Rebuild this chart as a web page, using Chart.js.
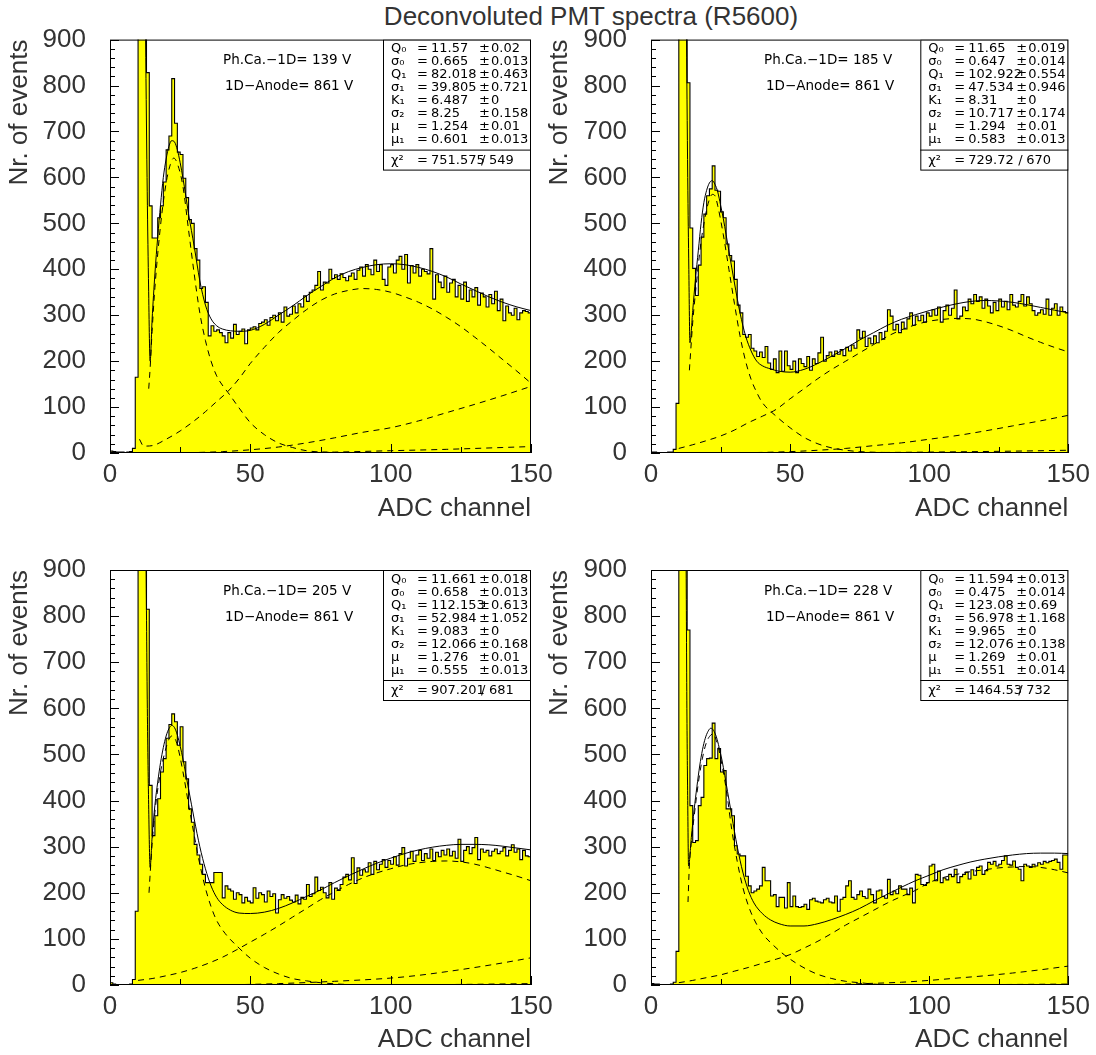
<!DOCTYPE html>
<html>
<head>
<meta charset="utf-8">
<script src="https://cdn.jsdelivr.net/npm/chart.js"></script>
<style>
  body { margin: 0; background: #fff; width: 1096px; height: 1055px; position: relative; overflow: hidden; }
  canvas { position: absolute; }
  #title { position: absolute; top: 3px; left: 591px; transform: translateX(-50%);
           font: 26px "Liberation Sans", Arial, sans-serif; line-height: 26px; color: #333; white-space: nowrap; }
</style>
</head>
<body>
<div id="title">Deconvoluted PMT spectra (R5600)</div>
<canvas id="tl" width="560" height="530" style="left:0;top:0"></canvas>
<canvas id="tr" width="556" height="530" style="left:540px;top:0"></canvas>
<canvas id="bl" width="560" height="525" style="left:0;top:530px"></canvas>
<canvas id="br" width="556" height="525" style="left:540px;top:530px"></canvas>
<script>
// histogram contents, one value per ADC channel 0..149
const histTL = [
  4,3,2,2,2,1,2,3,10,165,
  1800,3000,1400,828,538,468,468,512,538,590,
  660,690,815,718,655,650,598,556,508,500,
  445,420,358,362,328,255,277,265,268,262,
  255,240,262,250,280,258,265,270,238,268,
  272,275,268,282,285,290,278,295,300,288,
  305,285,318,298,302,320,305,325,318,342,
  330,350,355,365,395,355,372,370,400,380,
  388,378,390,382,375,385,392,378,398,405,
  385,410,400,388,420,395,410,378,365,405,
  410,392,420,428,400,432,370,408,392,410,
  385,400,395,390,445,335,388,372,360,385,
  350,370,378,340,365,335,372,330,355,340,
  360,322,348,340,318,345,325,352,310,335,
  288,320,305,300,315,290,305,310,308,305
];
const histTR = [
  2,2,1,1,1,1,2,2,8,108,
  2000,2400,1600,806,490,402,343,409,470,520,
  560,575,625,572,570,525,512,455,430,418,
  378,322,305,258,252,258,228,222,210,220,
  208,232,196,182,205,175,222,178,222,190,
  182,200,175,205,195,188,210,180,205,195,
  218,252,200,212,220,210,222,215,225,212,
  230,222,235,228,268,250,265,232,250,238,
  255,240,262,248,265,312,298,268,280,262,
  285,270,292,305,278,298,288,300,285,305,
  298,312,300,318,285,310,322,300,315,355,
  292,298,318,310,335,325,345,330,340,315,
  335,320,305,328,310,335,318,330,312,345,
  322,318,330,345,320,340,325,310,300,305,
  312,302,335,300,315,325,300,318,308,305
];
const histBL = [
  5,2,1,1,1,1,1,2,12,160,
  1800,2600,1300,815,433,324,367,404,462,491,
  535,565,588,571,520,560,484,447,382,353,
  305,282,262,240,222,222,222,244,244,244,
  189,215,208,204,186,200,196,178,190,182,
  178,211,188,200,196,180,204,192,198,156,
  185,196,188,192,184,180,195,176,190,186,
  218,192,198,234,205,212,200,189,222,186,
  210,205,218,234,240,228,276,220,254,238,
  250,245,265,240,268,250,262,272,255,270,
  262,278,260,285,298,258,275,290,268,282,
  292,270,285,275,295,270,288,278,292,282,
  295,280,290,275,316,268,292,300,285,298,
  320,272,295,288,292,280,290,295,285,290,
  298,280,292,304,288,295,272,292,280,278
];
const histBR = [
  3,2,2,1,1,1,1,2,6,73,
  2200,2800,1500,770,389,309,313,389,407,476,
  491,492,568,491,513,462,465,382,382,367,
  302,284,280,280,236,215,200,204,208,215,
  255,226,226,193,196,170,190,190,167,222,
  170,193,170,168,170,175,164,185,188,182,
  180,178,185,188,180,178,193,160,186,190,
  215,226,190,186,196,204,192,188,208,196,
  178,204,206,192,188,229,196,204,198,215,
  208,208,196,210,178,240,238,218,216,222,
  258,262,226,247,222,232,228,240,235,251,
  222,235,240,245,230,250,238,255,258,240,
  248,266,262,268,258,262,270,280,262,260,
  269,255,251,226,262,258,255,262,258,265,
  262,268,265,268,270,273,266,251,282,282
];

// fitted curves as [channel, events]
const fitTL = [[12.6,950],[13.2,600],[13.7,380],[14.3,200],[15,290],[16,390],[17,470],[18,540],[19,600],[20,640],[21,668],[22,680],[23,677],[24,660],[25,632],[26,598],[27,560],[28,520],[30,450],[32,375],[34,322],[36,292],[38,277],[40,270],[43,266],[46,265],[50,267],[55,280],[60,300],[65,320],[70,342],[75,362],[80,381],[85,395],[90,404],[95,410],[100,412],[105,410],[110,404],[115,395],[120,383],[125,368],[130,354],[135,340],[140,328],[145,318],[150,310]];
const onePeTL = [[13.8,140],[14.3,185],[15,265],[16,360],[18,495],[20,588],[21.5,628],[22.7,642],[24,630],[26,580],[28,485],[30,390],[32,305],[34,245],[36,200],[38,168],[40,148],[42,132],[46,98],[50,66],[55,40],[60,22],[65,12],[70,5],[80,1],[90,0],[150,0]];
const twoPeTL = [[10.5,30],[12,15],[15,16],[20,30],[25,48],[30,70],[34,90],[38,112],[42,134],[46,162],[50,195],[55,230],[60,262],[65,288],[70,312],[75,332],[80,346],[85,354],[90,358],[95,356],[100,350],[105,340],[110,328],[115,313],[120,295],[125,275],[130,252],[135,228],[140,203],[145,178],[150,152]];
const threePeTL = [[20,0],[30,1],[40,3],[50,7],[60,13],[70,22],[80,33],[90,45],[100,55],[110,70],[120,88],[130,106],[140,125],[150,145]];
const fourPeTL = [[40,0],[60,1],[80,2],[100,5],[120,8],[140,12],[150,14]];

const fitTR = [[12.7,950],[13.2,600],[13.6,400],[14,240],[15,310],[16,380],[17,440],[18,500],[19,545],[20,572],[21,588],[22,593],[23,585],[24,568],[25,540],[26,510],[27,475],[28,440],[30,370],[32,305],[34,255],[36,222],[38,200],[40,190],[43,183],[46,178],[50,176],[55,182],[60,195],[65,211],[70,228],[75,246],[80,262],[85,278],[90,291],[95,301],[100,310],[105,318],[110,325],[115,330],[120,332],[125,331],[130,328],[135,323],[140,317],[145,311],[150,305]];
const onePeTR = [[13.8,180],[14.3,225],[15,285],[16,350],[18,460],[20,530],[21,552],[22,563],[23,560],[24,538],[26,475],[28,400],[30,325],[32,255],[34,200],[36,160],[38,132],[40,110],[45,80],[50,55],[55,34],[60,20],[65,11],[70,6],[75,3],[85,1],[95,0],[150,0]];
const twoPeTR = [[10,10],[15,18],[20,27],[25,37],[30,50],[35,66],[40,80],[45,95],[50,118],[55,140],[60,162],[65,182],[70,200],[75,218],[80,236],[85,254],[90,268],[95,279],[100,287],[105,291],[110,293],[115,292],[120,286],[125,277],[130,266],[135,253],[140,241],[145,230],[150,220]];
const threePeTR = [[30,0],[50,3],[60,6],[70,10],[80,16],[90,22],[100,30],[110,38],[120,48],[130,59],[140,70],[150,82]];
const fourPeTR = [[60,0],[100,2],[130,4],[150,6]];

const fitBL = [[12.8,950],[13.3,600],[13.8,380],[14.3,255],[15,320],[16,390],[17,440],[18,482],[19,515],[20,540],[21,556],[22,563],[23,558],[24,542],[25,518],[26,490],[27,458],[28,425],[30,360],[32,300],[34,252],[36,215],[38,190],[40,175],[43,162],[46,156],[50,155],[55,158],[60,166],[65,178],[70,192],[75,206],[80,222],[85,237],[90,251],[95,264],[100,275],[105,285],[110,293],[115,299],[120,303],[125,305],[130,305],[135,304],[140,301],[145,297],[150,293]];
const onePeBL = [[13.9,200],[14.3,240],[15,305],[16,375],[18,462],[20,515],[21,533],[22,540],[23,536],[24,520],[26,462],[28,392],[30,325],[32,262],[34,210],[36,170],[38,140],[41,112],[46,80],[50,58],[55,38],[60,24],[65,14],[70,9],[75,5],[85,1],[95,0],[150,0]];
const twoPeBL = [[10,10],[15,14],[20,20],[25,27],[30,36],[35,47],[40,60],[45,76],[50,93],[55,110],[60,128],[65,147],[70,166],[75,185],[80,202],[85,218],[90,232],[95,243],[100,252],[105,260],[110,265],[115,268],[120,269],[125,267],[130,262],[135,254],[140,245],[145,236],[150,226]];
const threePeBL = [[40,0],[60,3],[80,8],[100,15],[110,21],[120,29],[130,38],[140,48],[150,59]];
const fourPeBL = [[80,0],[120,1],[150,3]];

const fitBR = [[12.6,950],[12.9,600],[13.2,400],[13.5,258],[14.5,320],[15.5,380],[16.5,430],[17.5,475],[18.5,510],[19.5,535],[20.5,550],[21.5,557],[22.5,552],[23.5,538],[24.5,515],[25.5,488],[26.5,455],[27.5,420],[29,368],[31,300],[33,245],[35,205],[37,178],[40,155],[43,141],[46,133],[50,128],[55,128],[60,133],[65,142],[70,153],[75,166],[80,182],[85,197],[90,212],[95,226],[100,238],[105,250],[110,259],[115,267],[120,273],[125,278],[130,282],[135,285],[140,286],[145,286],[150,285]];
const onePeBR = [[13.3,180],[13.8,260],[14.5,310],[15.5,365],[16.5,415],[17.5,458],[18.5,492],[19.5,518],[20.5,534],[21.5,542],[22.3,545],[23.5,530],[24.5,508],[25.5,478],[26.5,445],[27.5,405],[29,338],[31,268],[33,212],[35,172],[37,143],[40,112],[44,86],[48,65],[52,48],[56,34],[60,23],[65,14],[70,8],[75,5],[80,2],[90,0],[150,0]];
const twoPeBR = [[10,5],[15,10],[20,16],[25,22],[30,30],[35,38],[40,47],[45,56],[50,66],[55,80],[60,95],[65,112],[70,130],[75,146],[80,162],[85,178],[90,192],[95,205],[100,222],[105,233],[110,240],[115,246],[120,250],[125,254],[130,256],[135,257],[140,255],[145,250],[150,243]];
const threePeBR = [[50,0],[70,2],[90,6],[100,10],[110,15],[120,20],[130,26],[140,33],[150,41]];
const fourPeBR = [[100,0],[150,2]];

// fit results shown in the boxes
const statNames = ['Q₀', 'σ₀', 'Q₁', 'σ₁', 'K₁', 'σ₂', 'μ', 'μ₁'];
const statsTL = { vals: ['11.57','0.665','82.018','39.805','6.487','8.25','1.254','0.601'],
                  errs: ['0.02','0.013','0.463','0.721','0','0.158','0.01','0.013'], chi: ['751.575','549'], volt: '139' };
const statsTR = { vals: ['11.65','0.647','102.922','47.534','8.31','10.717','1.294','0.583'],
                  errs: ['0.019','0.014','0.554','0.946','0','0.174','0.01','0.013'], chi: ['729.72','670'], volt: '185' };
const statsBL = { vals: ['11.661','0.658','112.153','52.984','9.083','12.066','1.276','0.555'],
                  errs: ['0.018','0.013','0.613','1.052','0','0.168','0.01','0.013'], chi: ['907.201','681'], volt: '205' };
const statsBR = { vals: ['11.594','0.475','123.08','56.978','9.965','12.076','1.269','0.551'],
                  errs: ['0.013','0.014','0.69','1.168','0','0.138','0.01','0.014'], chi: ['1464.53','732'], volt: '228' };

const panels = [
  { id: 'tl', hist: histTL, fit: fitTL, parts: [onePeTL, twoPeTL, threePeTL, fourPeTL], stats: statsTL,
    pad: { left: 0, top: 38, right: 29, bottom: 6 }, yW: 110, xH: 71 },
  { id: 'tr', hist: histTR, fit: fitTR, parts: [onePeTR, twoPeTR, threePeTR, fourPeTR], stats: statsTR,
    pad: { left: 0, top: 38, right: 24, bottom: 6 }, yW: 111, xH: 71 },
  { id: 'bl', hist: histBL, fit: fitBL, parts: [onePeBL, twoPeBL, threePeBL, fourPeBL], stats: statsBL,
    pad: { left: 0, top: 40, right: 29, bottom: 0 }, yW: 110, xH: 70 },
  { id: 'br', hist: histBR, fit: fitBR, parts: [onePeBR, twoPeBR, threePeBR, fourPeBR], stats: statsBR,
    pad: { left: 0, top: 40, right: 24, bottom: 0 }, yW: 111, xH: 70 }
];

const statsById = {};
panels.forEach(p => { statsById[p.id] = p.stats; });

const labelFont = 'Liberation Sans';
const textColor = '#333';

// frame, inward ticks and the fit box
const framePlugin = {
  id: 'frame',
  afterDraw(chart) {
    const { ctx, chartArea: a, scales: { x, y } } = chart;
    const st = statsById[chart.canvas.id];
    ctx.save();
    ctx.strokeStyle = '#000';
    ctx.lineWidth = 1;
    ctx.strokeRect(a.left + 0.5, a.top + 0.5, a.width - 1, a.height - 1);

    ctx.beginPath();
    for (let v = 0; v <= 900; v += 20) {
      const py = Math.round(y.getPixelForValue(v)) + 0.5;
      ctx.moveTo(a.left, py);
      ctx.lineTo(a.left + (v % 100 === 0 ? 9 : 5), py);
    }
    for (let v = 0; v <= 150; v += 25) {
      const px = Math.round(x.getPixelForValue(v)) + 0.5;
      ctx.moveTo(px, a.bottom);
      ctx.lineTo(px, a.bottom - (v % 50 === 0 ? 9 : 6));
    }
    ctx.stroke();

    // HV settings
    ctx.fillStyle = '#000';
    ctx.textBaseline = 'middle';
    ctx.font = '13.5px "DejaVu Sans"';
    ctx.fillText('Ph.Ca.−1D= ' + st.volt + ' V', a.left + 113, a.top + 21);
    ctx.fillText('1D−Anode= 861 V', a.left + 115, a.top + 47);

    // stats box
    const bw = 148, bx = a.right - bw, by = a.top;
    ctx.fillStyle = '#fff';
    ctx.fillRect(bx, by, bw, 130);
    ctx.strokeRect(bx + 0.5, by + 0.5, bw - 1, 130);
    ctx.beginPath();
    ctx.moveTo(bx, by + 110.5);
    ctx.lineTo(a.right, by + 110.5);
    ctx.stroke();
    ctx.fillStyle = '#000';
    ctx.font = '13px "DejaVu Sans"';
    statNames.forEach((n, i) => {
      const ty = by + 9.5 + 13 * i;
      ctx.fillText(n, bx + 8, ty);
      ctx.fillText('=', bx + 34, ty);
      ctx.fillText(st.vals[i], bx + 48, ty);
      ctx.fillText('±', bx + 96, ty);
      ctx.fillText(st.errs[i], bx + 108, ty);
    });
    const cy = by + 121;
    ctx.fillText('χ²', bx + 8, cy);
    ctx.fillText('=', bx + 34, cy);
    ctx.fillText(st.chi[0], bx + 48, cy);
    ctx.fillText('/', bx + 98, cy);
    ctx.fillText(st.chi[1], bx + 106, cy);
    ctx.restore();
  }
};

function toPoints(pairs) {
  return pairs.map(([x, y]) => ({ x, y }));
}

function histPoints(vals) {
  const pts = vals.map((v, i) => ({ x: i, y: v }));
  pts.push({ x: vals.length, y: vals[vals.length - 1] });
  return pts;
}

function curve(pairs, dashed) {
  return {
    data: toPoints(pairs),
    borderColor: '#000',
    borderWidth: 1,
    borderDash: dashed ? [6, 5] : [],
    pointRadius: 0,
    fill: false,
    cubicInterpolationMode: 'monotone',
    order: 1
  };
}

panels.forEach(p => {
  new Chart(document.getElementById(p.id), {
    type: 'line',
    data: {
      datasets: [
        {
          data: histPoints(p.hist),
          stepped: 'before',
          fill: 'origin',
          backgroundColor: '#ffff00',
          borderColor: '#000',
          borderWidth: 1.1,
          pointRadius: 0,
          order: 5
        },
        curve(p.fit, false),
        ...p.parts.map(c => curve(c, true))
      ]
    },
    options: {
      responsive: false,
      animation: false,
      layout: { padding: p.pad },
      plugins: { legend: { display: false }, tooltip: { enabled: false } },
      scales: {
        x: {
          type: 'linear', min: 0, max: 150,
          grid: { display: false, drawTicks: false },
          border: { display: false },
          ticks: { stepSize: 50, autoSkip: false, maxRotation: 0, padding: 6,
                   color: textColor, font: { family: labelFont, size: 26 } },
          title: { display: true, text: 'ADC channel', align: 'end', color: textColor,
                   padding: { top: 0, bottom: 0 }, font: { family: labelFont, size: 26 } },
          afterFit: s => { s.height = p.xH; }
        },
        y: {
          min: 0, max: 900,
          grid: { display: false, drawTicks: false },
          border: { display: false },
          ticks: { stepSize: 100, autoSkip: false, padding: 24,
                   color: textColor, font: { family: labelFont, size: 26 } },
          title: { display: true, text: 'Nr. of events', align: 'end', color: textColor,
                   padding: { top: 4, bottom: 0 }, font: { family: labelFont, size: 26 } },
          afterFit: s => { s.width = p.yW; }
        }
      }
    },
    plugins: [framePlugin]
  });
});
</script>
</body>
</html>
